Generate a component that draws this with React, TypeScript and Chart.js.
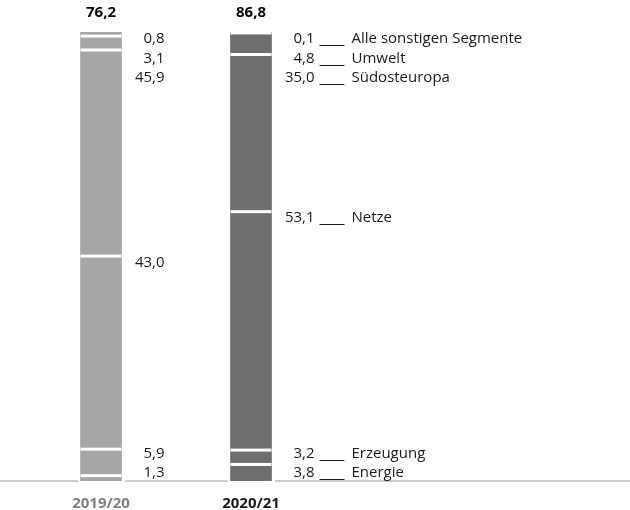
import React, { useEffect, useRef } from 'react';
import { Chart, registerables } from 'chart.js';

Chart.register(...registerables);

// Fiscal years and group totals shown above each column
const years = ['2019/20', '2020/21'];
const totals = [76.2, 86.8];

// Segments, stacked from the bottom up
const segments = ['Energie', 'Erzeugung', 'Netze', 'Südosteuropa', 'Umwelt', 'Alle sonstigen Segmente'];
const share2019 = [1.3, 5.9, 43.0, 45.9, 3.1, 0.8];
const share2020 = [3.8, 3.2, 53.1, 35.0, 4.8, 0.1];

const barColors = ['#a6a6a6', '#6e6e6e'];
const yearColors = ['#808080', '#1a1a1a'];
const textColor = '#1a1a1a';
const FONT = '"Open Sans", "Noto Sans", sans-serif';

const fmt = (v: number) => v.toFixed(1).replace('.', ',');

const annotate = {
  id: 'annotate',
  beforeDatasetsDraw(chart: any) {
    const { ctx, scales } = chart;
    const y0 = scales.y.getPixelForValue(0);
    ctx.save();
    ctx.strokeStyle = '#cccccc';
    ctx.lineWidth = 2;
    ctx.beginPath();
    ctx.moveTo(0, y0);
    ctx.lineTo(chart.width, y0);
    ctx.stroke();
    // small white gaps in the baseline beside each column
    chart.getDatasetMeta(0).data.forEach((bar: any) => {
      const { x, width } = bar.getProps(['x', 'width'], true);
      ctx.clearRect(x - width / 2 - 3, y0 - 2, width + 6, 4);
    });
    ctx.restore();
  },
  afterDatasetsDraw(chart: any) {
    const { ctx, scales, chartArea } = chart;
    const yScale = scales.y;
    const y0 = yScale.getPixelForValue(0);
    const n = chart.data.datasets.length;
    const columns = chart.getDatasetMeta(0).data.length;
    ctx.save();

    for (let i = 0; i < columns; i++) {
      const ref = chart.getDatasetMeta(0).data[i].getProps(['x', 'width'], true);
      const left = ref.x - ref.width / 2;
      const right = ref.x + ref.width / 2;

      // white separators between stacked segments
      ctx.fillStyle = '#ffffff';
      for (let j = 0; j < n - 1; j++) {
        const values = chart.data.datasets.slice(0, j + 1).map((d: any) => d.data[i]);
        const top = yScale.getPixelForValue(values.reduce((a: number, b: number) => a + b, 0));
        ctx.fillRect(left, top - 1, right - left, 3);
      }

      // label positions: near each segment's top, spread to avoid overlap
      const desired: number[] = [];
      let cum = 0;
      for (let j = 0; j < n; j++) {
        cum += chart.data.datasets[j].data[i];
        desired[j] = yScale.getPixelForValue(cum) + 7;
      }
      const gap = 19.5;
      const pos = desired.slice();
      for (let j = n - 2; j >= 0; j--) pos[j] = Math.max(pos[j], pos[j + 1] + gap);
      pos[0] = Math.min(pos[0], y0 - 8);
      for (let j = 1; j < n; j++) pos[j] = Math.min(pos[j], pos[j - 1] - gap);

      const valueX = right + 43;
      ctx.font = `15px ${FONT}`;
      ctx.textBaseline = 'middle';
      for (let j = 0; j < n; j++) {
        const v = chart.data.datasets[j].data[i];
        ctx.fillStyle = textColor;
        ctx.textAlign = 'right';
        ctx.fillText(fmt(v), valueX, pos[j]);
        if (i === columns - 1) {
          ctx.strokeStyle = textColor;
          ctx.lineWidth = 1;
          ctx.beginPath();
          ctx.moveTo(valueX + 5, Math.round(pos[j] + 6) + 0.5);
          ctx.lineTo(valueX + 30, Math.round(pos[j] + 6) + 0.5);
          ctx.stroke();
          ctx.textAlign = 'left';
          ctx.fillText(chart.data.datasets[j].label, valueX + 37, pos[j]);
        }
      }

      // column total
      ctx.font = `bold 15px ${FONT}`;
      ctx.textAlign = 'center';
      ctx.fillStyle = '#000000';
      ctx.fillText(fmt(totals[i]), ref.x, chartArea.top - 19);
    }
    ctx.restore();
  },
};

export default function App() {
  const canvasRef = useRef<HTMLCanvasElement | null>(null);

  useEffect(() => {
    if (!canvasRef.current) return;
    const chart = new Chart(canvasRef.current, {
      type: 'bar',
      data: {
        labels: years,
        datasets: segments.map((name, j) => ({
          label: name,
          data: [share2019[j], share2020[j]],
          backgroundColor: barColors,
          borderWidth: 0,
          barThickness: 41,
          minBarLength: j === segments.length - 1 ? 2 : 0,
        })),
      },
      options: {
        animation: false,
        responsive: false,
        layout: { padding: { left: 26, right: 304, top: 32, bottom: 0 } },
        plugins: { legend: { display: false }, tooltip: { enabled: false } },
        scales: {
          x: {
            stacked: true,
            grid: { display: false, drawTicks: false },
            border: { display: false },
            ticks: {
              padding: 14,
              font: { family: FONT, size: 15, weight: 'bold' },
              color: (c: any) => yearColors[c.index],
            },
            afterFit: (scale: any) => {
              scale.height = 29;
            },
          },
          y: { stacked: true, display: false, min: 0, max: 100 },
        },
      },
      plugins: [annotate],
    });
    return () => chart.destroy();
  }, []);

  return (
    <div style={{ position: 'fixed', left: 0, top: 0, width: 630, height: 510, background: '#ffffff' }}>
      <canvas ref={canvasRef} width={630} height={510} />
    </div>
  );
}
